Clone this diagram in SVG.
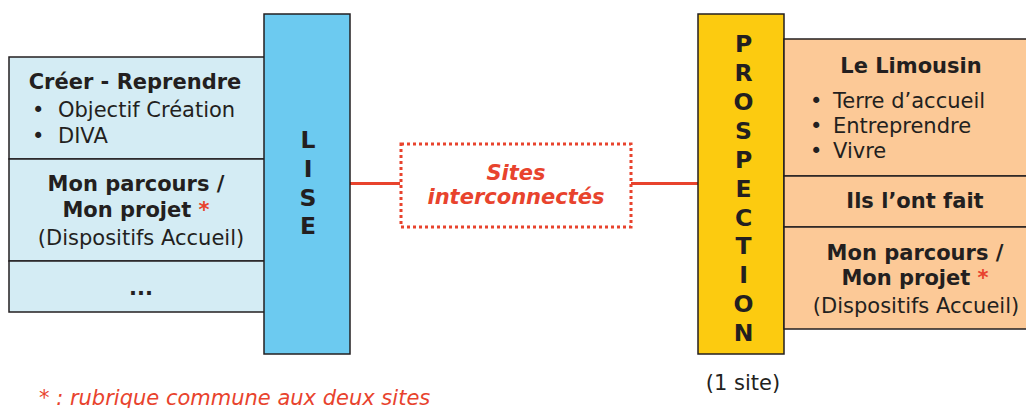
<svg xmlns="http://www.w3.org/2000/svg" width="1026" height="408" viewBox="0 0 1026 408">
  <style>
    text { font-family: "DejaVu Sans", Verdana, sans-serif; fill: #231f20; font-size: 21px; }
    .b { font-weight: bold; }
    .c { text-anchor: middle; }
    .red { fill: #e8432d; }
    .bar-letter { font-weight: bold; font-size: 23.5px; text-anchor: middle; }
    .blue { fill: #d4ecf4; stroke: #231f20; stroke-width: 1.5; }
    .peach { fill: #fcc997; stroke: #231f20; stroke-width: 1.5; }
    .link { stroke: #e8432d; stroke-width: 3; fill: none; }
  </style>

  <!-- connectors -->
  <g id="connectors">
    <line class="link" x1="350" y1="183.5" x2="400" y2="183.5"/>
    <line class="link" x1="631" y1="183.5" x2="698" y2="183.5"/>
  </g>

  <!-- LISE site sections -->
  <g id="lise-sections">
    <rect class="blue" x="9" y="57" width="256" height="102"/>
    <rect class="blue" x="9" y="159" width="256" height="102"/>
    <rect class="blue" x="9" y="261" width="256" height="51"/>
    <text class="b c" x="135" y="89">Créer - Reprendre</text>
    <text x="32" y="117">•</text>
    <text x="58" y="117">Objectif Création</text>
    <text x="32" y="143">•</text>
    <text x="58" y="143">DIVA</text>
    <text class="b c" x="136" y="191">Mon parcours /</text>
    <text class="b c" x="136" y="217">Mon projet <tspan class="red">*</tspan></text>
    <text class="c" x="141" y="245">(Dispositifs Accueil)</text>
    <text class="b c" x="141" y="295">...</text>
  </g>

  <!-- LISE bar -->
  <g id="lise">
    <rect x="264" y="14" width="86" height="340" fill="#6ccaf0" stroke="#231f20" stroke-width="1.5"/>
    <text class="bar-letter" x="308" y="148">L</text>
    <text class="bar-letter" x="308" y="177">I</text>
    <text class="bar-letter" x="308" y="205.5">S</text>
    <text class="bar-letter" x="308" y="233.5">E</text>
  </g>

  <!-- interconnection label -->
  <g id="interconnexion">
    <rect x="401" y="144" width="230" height="83" fill="#ffffff" stroke="#e8432d" stroke-width="3" stroke-dasharray="3 3"/>
    <text class="b c red" x="516" y="180" font-style="italic">Sites</text>
    <text class="b c red" x="516" y="204" font-style="italic">interconnectés</text>
  </g>

  <!-- PROSPECTION bar -->
  <g id="prospection">
    <rect x="698" y="14" width="86" height="340" fill="#fccb10" stroke="#231f20" stroke-width="1.5"/>
    <text class="bar-letter" x="743.5" y="52.3">P</text>
    <text class="bar-letter" x="743.5" y="81.2">R</text>
    <text class="bar-letter" x="743.5" y="110">O</text>
    <text class="bar-letter" x="743.5" y="138.9">S</text>
    <text class="bar-letter" x="743.5" y="167.8">P</text>
    <text class="bar-letter" x="743.5" y="196.6">E</text>
    <text class="bar-letter" x="743.5" y="225.5">C</text>
    <text class="bar-letter" x="743.5" y="254.4">T</text>
    <text class="bar-letter" x="743.5" y="283.3">I</text>
    <text class="bar-letter" x="743.5" y="312.1">O</text>
    <text class="bar-letter" x="743.5" y="341">N</text>
    <text class="c" x="743" y="390" font-size="19">(1 site)</text>
  </g>

  <!-- PROSPECTION site sections -->
  <g id="prospection-sections">
    <rect class="peach" x="784" y="39" width="262" height="137"/>
    <rect class="peach" x="784" y="176" width="262" height="51"/>
    <rect class="peach" x="784" y="227" width="262" height="102"/>
    <text class="b c" x="911" y="73">Le Limousin</text>
    <text x="810" y="108">•</text>
    <text x="833" y="108">Terre d’accueil</text>
    <text x="810" y="133">•</text>
    <text x="833" y="133">Entreprendre</text>
    <text x="810" y="158">•</text>
    <text x="833" y="158">Vivre</text>
    <text class="b c" x="915" y="208">Ils l’ont fait</text>
    <text class="b c" x="915" y="260">Mon parcours /</text>
    <text class="b c" x="915" y="285">Mon projet <tspan class="red">*</tspan></text>
    <text class="c" x="916" y="313">(Dispositifs Accueil)</text>
  </g>

  <!-- footnote -->
  <text class="red" x="39" y="405" font-size="21.5" font-style="italic">* : rubrique commune aux deux sites</text>
</svg>
